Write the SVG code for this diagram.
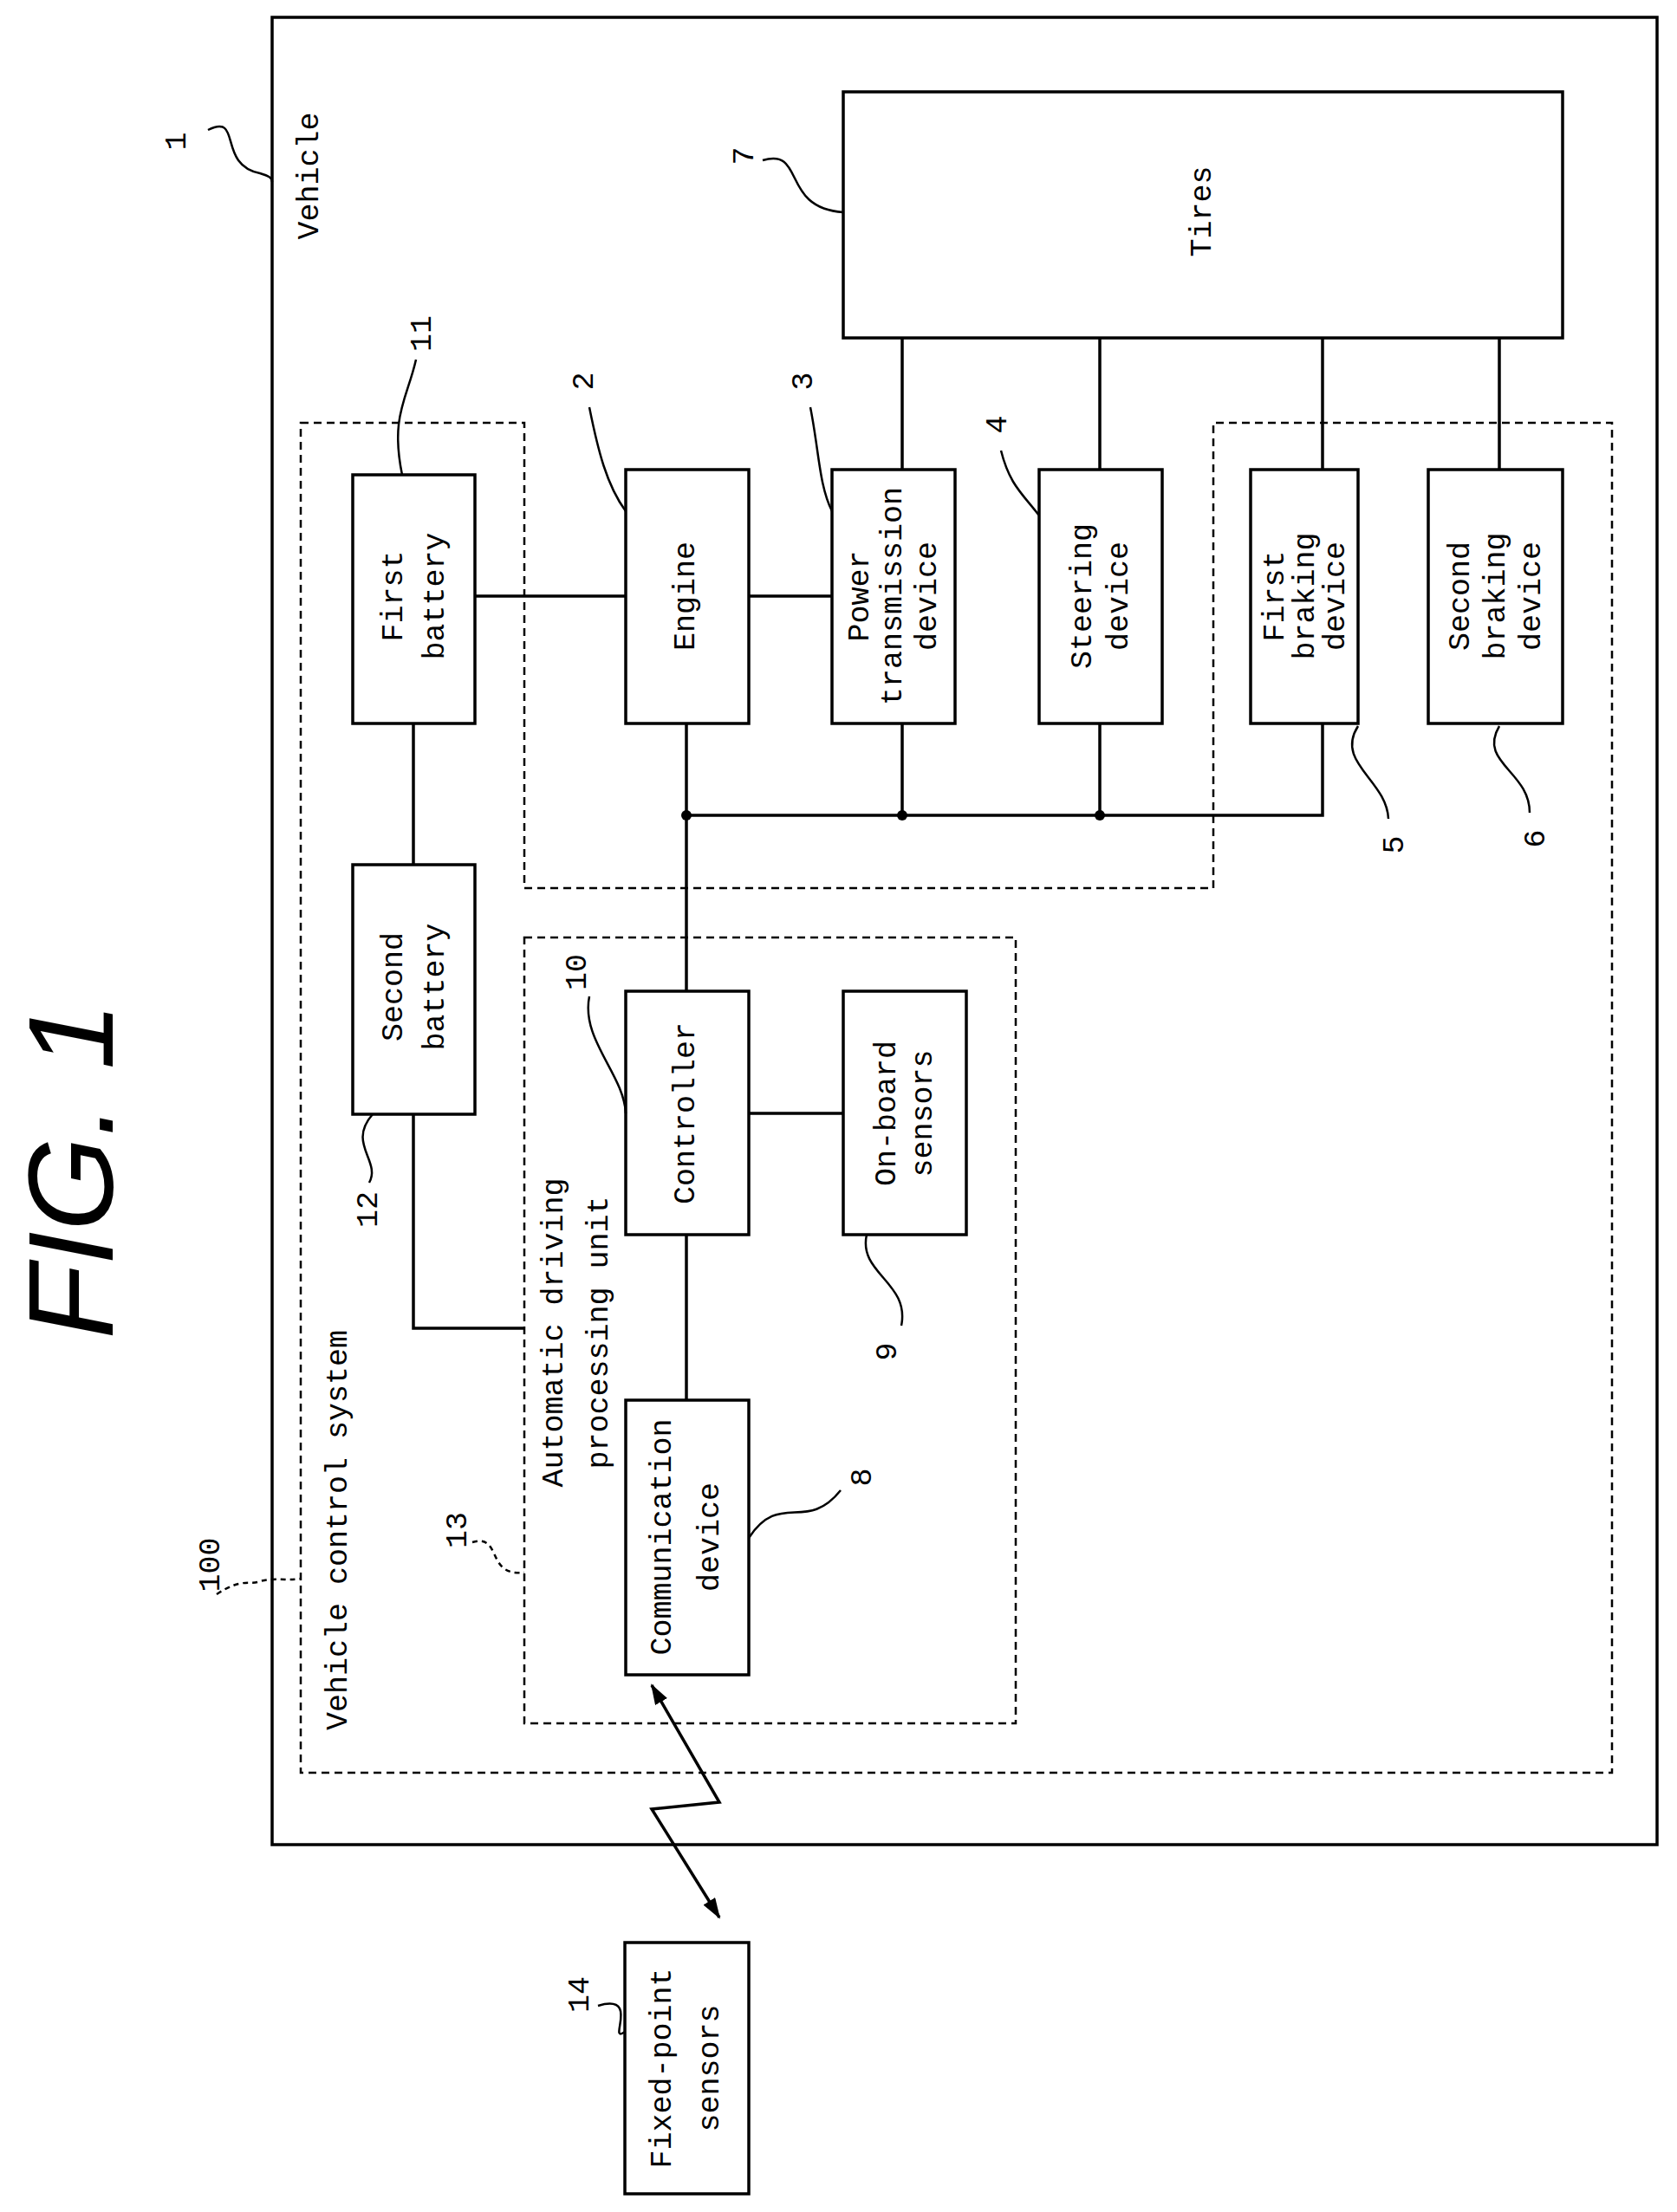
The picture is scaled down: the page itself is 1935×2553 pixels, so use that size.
<svg xmlns="http://www.w3.org/2000/svg" width="1935" height="2553" viewBox="0 0 1935 2553">
<style>
.b{fill:#fff;stroke:#000;stroke-width:3.5}
.d{fill:none;stroke:#000;stroke-width:2.5;stroke-dasharray:9 6}
.l{fill:none;stroke:#000;stroke-width:3.5}
.q{fill:none;stroke:#000;stroke-width:2.5}
.qd{fill:none;stroke:#000;stroke-width:2.5;stroke-dasharray:6 5}
text{font-family:"Liberation Mono","DejaVu Sans Mono",monospace;font-size:35px;fill:#000;text-anchor:middle;dominant-baseline:central}
</style>
<defs>
<marker id="ah" markerWidth="24" markerHeight="16" refX="22" refY="8" orient="auto-start-reverse" markerUnits="userSpaceOnUse" viewBox="0 0 24 16"><path d="M0,0 L24,8 L0,16 z" fill="#000"/></marker>
</defs>
<rect width="1935" height="2553" fill="#fff"/>
<text transform="translate(81,1351) rotate(-90)" style="font-family:'Liberation Sans',sans-serif;font-size:140px;font-style:italic">FIG. 1</text>
<g id="vehicle"><rect x="314" y="20" width="1598" height="2109" class="b" fill="none"/>
<text transform="translate(358,203) rotate(-90)">Vehicle</text></g>
<g id="vcs"><path d="M347,488 H605 V1025 H1400 V488 H1860 V2046 H347 Z" class="d"/>
<text transform="translate(391,1766) rotate(-90)">Vehicle control system</text></g>
<g id="adpu"><rect x="605" y="1082" width="567" height="907" class="d"/>
<text transform="translate(640,1538) rotate(-90)">Automatic driving</text>
<text transform="translate(692,1538) rotate(-90)">processing unit</text></g>
<g id="connectors">
<path class="l" d="M548,688 H722 M864,688 H960 M1041,390 V542 M1269,390 V542 M1526,390 V542 M1730,390 V542"/>
<path class="l" d="M477,835 V998 M477,1286 V1533 H605"/>
<path class="l" d="M792,941 H1526 V835 M792,835 V1144 M1041,835 V941 M1269,835 V941"/>
<path class="l" d="M864,1285 H973 M792,1425 V1616"/>
<circle cx="792" cy="941" r="6"/><circle cx="1041" cy="941" r="6"/><circle cx="1269" cy="941" r="6"/>
<path class="l" d="M752,1945 L830,2080 L752,2088 L830,2213" marker-start="url(#ah)" marker-end="url(#ah)"/>
</g>
<g id="tires"><rect x="973" y="106" width="830" height="284" class="b"/><text transform="translate(1388,244) rotate(-90)">Tires</text></g>
<g id="fb1"><rect x="407" y="548" width="141" height="287" class="b"/><text transform="translate(455,688) rotate(-90)">First</text><text transform="translate(503,688) rotate(-90)">battery</text></g>
<g id="sb2"><rect x="407" y="998" width="141" height="288" class="b"/><text transform="translate(455,1139) rotate(-90)">Second</text><text transform="translate(503,1139) rotate(-90)">battery</text></g>
<g id="engine"><rect x="722" y="542" width="142" height="293" class="b"/><text transform="translate(792,688) rotate(-90)">Engine</text></g>
<g id="ptd"><rect x="960" y="542" width="142" height="293" class="b"/><text transform="translate(993,688) rotate(-90)">Power</text><text transform="translate(1031,688) rotate(-90)">transmission</text><text transform="translate(1071,688) rotate(-90)">device</text></g>
<g id="steer"><rect x="1199" y="542" width="142" height="293" class="b"/><text transform="translate(1250,688) rotate(-90)">Steering</text><text transform="translate(1292,688) rotate(-90)">device</text></g>
<g id="brk1"><rect x="1443" y="542" width="124" height="293" class="b"/><text transform="translate(1472,688) rotate(-90)">First</text><text transform="translate(1507,688) rotate(-90)">braking</text><text transform="translate(1542,688) rotate(-90)">device</text></g>
<g id="brk2"><rect x="1648" y="542" width="155" height="293" class="b"/><text transform="translate(1686,688) rotate(-90)">Second</text><text transform="translate(1727,688) rotate(-90)">braking</text><text transform="translate(1768,688) rotate(-90)">device</text></g>
<g id="ctrl"><rect x="722" y="1144" width="142" height="281" class="b"/><text transform="translate(792,1285) rotate(-90)">Controller</text></g>
<g id="obs"><rect x="973" y="1144" width="142" height="281" class="b"/><text transform="translate(1024,1285) rotate(-90)">On-board</text><text transform="translate(1066,1285) rotate(-90)">sensors</text></g>
<g id="comm"><rect x="722" y="1616" width="142" height="317" class="b"/><text transform="translate(765,1774) rotate(-90)">Communication</text><text transform="translate(820,1774) rotate(-90)">device</text></g>
<g id="fps"><rect x="721" y="2242" width="143" height="290" class="b"/><text transform="translate(765,2387) rotate(-90)">Fixed-point</text><text transform="translate(820,2387) rotate(-90)">sensors</text></g>
<g id="refs">
<text transform="translate(205,163) rotate(-90)">1</text><path class="q" d="M240,150 C280,130 250,190 300,200 C310,203 314,205 314,210"/>
<text transform="translate(860,180) rotate(-90)">7</text><path class="q" d="M880,185 C930,170 900,240 973,245"/>
<text transform="translate(488,385) rotate(-90)">11</text><path class="q" d="M480,415 C470,460 450,480 464,548"/>
<text transform="translate(675,440) rotate(-90)">2</text><path class="q" d="M680,470 C690,520 700,560 722,590"/>
<text transform="translate(928,440) rotate(-90)">3</text><path class="q" d="M935,470 C945,520 945,560 960,590"/>
<text transform="translate(1152,490) rotate(-90)">4</text><path class="q" d="M1155,520 C1165,560 1180,570 1199,595"/>
<text transform="translate(1610,975) rotate(-90)">5</text><path class="q" d="M1567,838 C1540,880 1600,900 1602,945"/>
<text transform="translate(1773,968) rotate(-90)">6</text><path class="q" d="M1730,838 C1705,880 1765,890 1765,938"/>
<text transform="translate(667,1122) rotate(-90)">10</text><path class="q" d="M680,1150 C670,1200 720,1240 722,1285"/>
<text transform="translate(1025,1560) rotate(-90)">9</text><path class="q" d="M1000,1425 C990,1470 1050,1480 1040,1530"/>
<text transform="translate(426,1396) rotate(-90)">12</text><path class="q" d="M430,1286 C400,1320 440,1340 426,1365"/>
<text transform="translate(996,1705) rotate(-90)">8</text><path class="q" d="M864,1775 C900,1720 930,1770 970,1720"/>
<text transform="translate(244,1806) rotate(-90)">100</text><path class="qd" d="M250,1840 C280,1820 290,1830 300,1825 C320,1820 330,1825 347,1822"/>
<text transform="translate(529,1766) rotate(-90)">13</text><path class="qd" d="M545,1780 C580,1770 560,1820 605,1815"/>
<text transform="translate(670,2302) rotate(-90)">14</text><path class="q" d="M690,2315 C740,2300 700,2360 721,2345"/>
</g>
</svg>
